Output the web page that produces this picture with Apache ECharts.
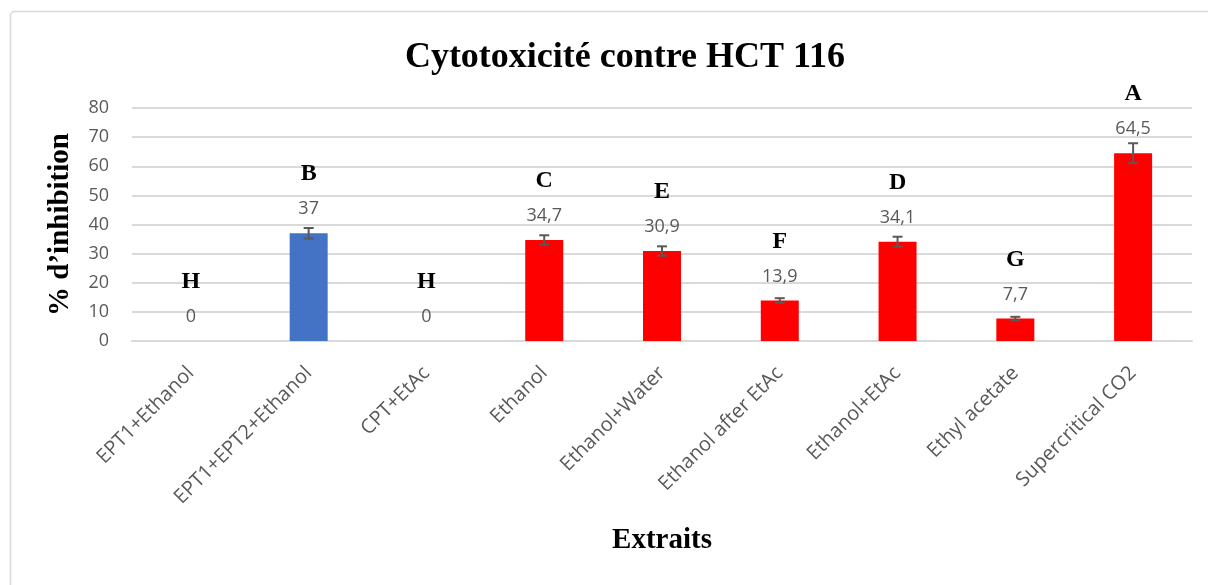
<!DOCTYPE html>
<html>
<head>
<meta charset="utf-8">
<script src="https://cdn.jsdelivr.net/npm/echarts@6/dist/echarts.min.js"></script>
<style>html,body{margin:0;padding:0;background:#fff}#c{width:1208px;height:585px}</style>
</head>
<body>
<div id="c"></div>
<script>
const categories = ['EPT1+Ethanol','EPT1+EPT2+Ethanol','CPT+EtAc','Ethanol','Ethanol+Water','Ethanol after EtAc','Ethanol+EtAc','Ethyl acetate','Supercritical CO2'];
const values = [0, 37, 0, 34.7, 30.9, 13.9, 34.1, 7.7, 64.5];
const errors = [0, 1.8, 0, 1.6, 1.6, 0.8, 1.7, 0.6, 3.4];
const letters = ['H','B','H','C','E','F','D','G','A'];
const barColors = ['#FF0000','#4472C4','#FF0000','#FF0000','#FF0000','#FF0000','#FF0000','#FF0000','#FF0000'];
const yTicks = [0, 10, 20, 30, 40, 50, 60, 70, 80];

const chart = echarts.init(document.getElementById('c'));
const fmtNum = v => String(v).replace('.', ',');

chart.setOption({
  animation: false,
  backgroundColor: '#fff',
  graphic: [{
    type: 'rect', shape: { x: 10.5, y: 11.5, width: 1210, height: 600, r: 4 },
    style: { fill: 'none', stroke: '#d9d9d9', lineWidth: 1.5 }, silent: true
  }],
  title: {
    text: 'Cytotoxicité contre HCT 116', left: 620, top: 35, textAlign: 'center',
    textStyle: { fontFamily: 'Liberation Serif', fontWeight: 'bold', fontSize: 36, color: '#000' }
  },
  grid: { left: 132, right: 16, top: 108, bottom: 244, containLabel: false },
  xAxis: {
    type: 'category', data: categories,
    name: 'Extraits', nameLocation: 'middle', nameGap: 185,
    nameTextStyle: { fontFamily: 'Liberation Serif', fontWeight: 'bold', fontSize: 29, color: '#000' },
    axisLine: { show: true, lineStyle: { color: '#d9d9d9', width: 2 } },
    axisTick: { show: false },
    axisLabel: { rotate: 45, margin: 29, interval: 0, fontFamily: 'Open Sans', fontSize: 20, color: '#595959' }
  },
  yAxis: {
    type: 'value', min: 0, max: 80, interval: 10,
    name: '% d’inhibition', nameLocation: 'middle', nameGap: 57, nameRotate: 90,
    nameTextStyle: { fontFamily: 'Liberation Serif', fontWeight: 'bold', fontSize: 29, color: '#000' },
    axisLine: { show: false }, axisTick: { show: false },
    axisLabel: { margin: 23, fontFamily: 'Open Sans', fontSize: 18, color: '#595959',
      formatter: v => yTicks.includes(v) ? String(v) : '' },
    splitLine: { lineStyle: { color: '#d9d9d9', width: 2 } }
  },
  series: [
    {
      type: 'bar', barWidth: 38,
      data: values.map((v, i) => ({ value: v, itemStyle: { color: barColors[i] } })),
      label: {
        show: true, position: 'top', distance: 12,
        formatter: p => '{l|' + letters[p.dataIndex] + '}\n{v|' + fmtNum(p.value) + '}',
        rich: {
          l: { fontFamily: 'Liberation Serif', fontWeight: 'bold', fontSize: 24, color: '#000', lineHeight: 46 },
          v: { fontFamily: 'Open Sans', fontSize: 18, color: '#595959', lineHeight: 24 }
        }
      },
      z: 2
    },
    {
      type: 'custom',
      data: values.map((v, i) => [i, v, errors[i]]),
      renderItem: (params, api) => {
        const e = api.value(2);
        if (!e) return null;
        const x = api.value(0), v = api.value(1);
        const hi = api.coord([x, v + e]);
        const lo = api.coord([x, v - e]);
        const w = 5;
        const st = { stroke: '#595959', lineWidth: 2 };
        return {
          type: 'group', children: [
            { type: 'line', shape: { x1: hi[0], y1: hi[1], x2: lo[0], y2: lo[1] }, style: st },
            { type: 'line', shape: { x1: hi[0] - w, y1: hi[1], x2: hi[0] + w, y2: hi[1] }, style: st },
            { type: 'line', shape: { x1: lo[0] - w, y1: lo[1], x2: lo[0] + w, y2: lo[1] }, style: st }
          ]
        };
      },
      z: 3
    }
  ]
});
</script>
</body>
</html>
